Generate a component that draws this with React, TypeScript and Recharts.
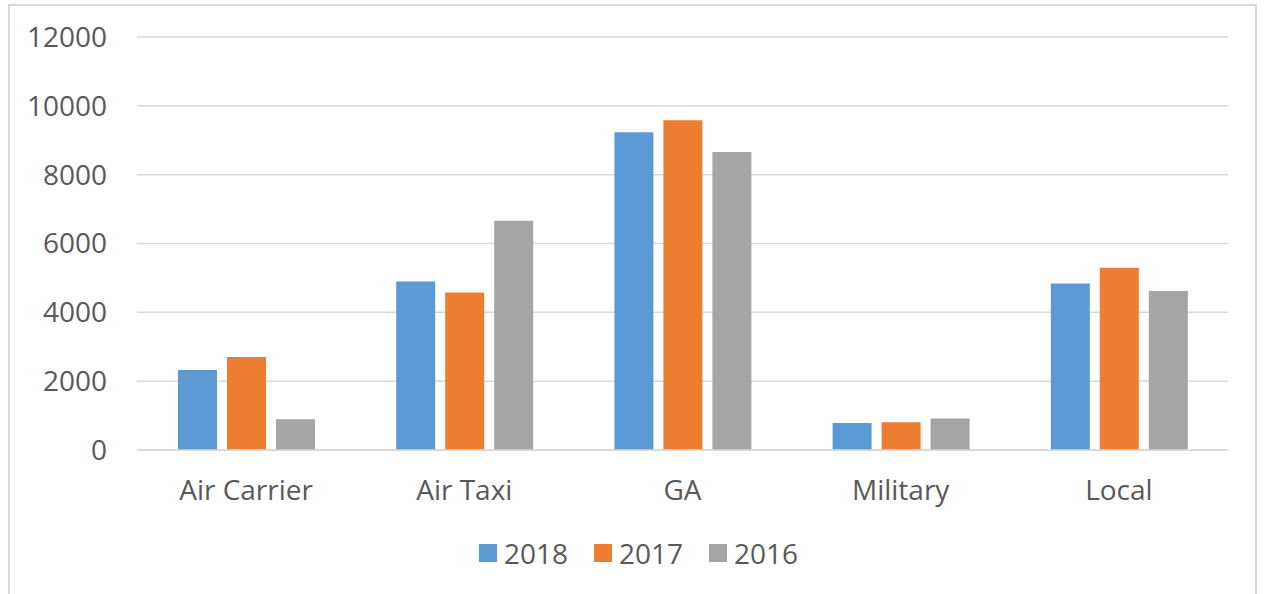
import React from 'react';
import { BarChart, Bar, XAxis, YAxis, CartesianGrid, Legend } from 'recharts';

const categories = ['Air Carrier', 'Air Taxi', 'GA', 'Military', 'Local'];
const values2018 = [2326, 4897, 9229, 785, 4838];
const values2017 = [2704, 4577, 9578, 805, 5292];
const values2016 = [893, 6659, 8656, 913, 4623];
const yTicks = [0, 2000, 4000, 6000, 8000, 10000, 12000];

const seriesInfo = [
  { key: 's2018', name: '2018', color: '#5B9BD5' },
  { key: 's2017', name: '2017', color: '#ED7D31' },
  { key: 's2016', name: '2016', color: '#A5A5A5' },
];

const data = categories.map((c, i) => ({
  name: c,
  s2018: values2018[i],
  s2017: values2017[i],
  s2016: values2016[i],
}));

const FONT = '"Open Sans", sans-serif';
const TEXT = '#595959';

const LegendContent = () => (
  <div
    style={{
      display: 'flex',
      alignItems: 'center',
      height: 40,
      paddingLeft: 479,
      fontFamily: FONT,
      fontSize: 28,
      color: TEXT,
    }}
  >
    {seriesInfo.map((s) => (
      <div key={s.key} style={{ display: 'flex', alignItems: 'center', marginRight: 26 }}>
        <div style={{ width: 18, height: 18, background: s.color, marginRight: 7 }} />
        <span style={{ lineHeight: '40px' }}>{s.name}</span>
      </div>
    ))}
  </div>
);

export default function App() {
  return (
    <div style={{ position: 'absolute', left: 0, top: 0, width: 1264, height: 594, overflow: 'hidden', background: '#fff' }}>
      <div
        style={{
          position: 'absolute',
          left: 8,
          top: 4,
          width: 1245,
          height: 620,
          border: '2px solid #D9D9D9',
        }}
      />
      <div style={{ position: 'absolute', left: 0, top: 0 }}>
        <BarChart
          width={1264}
          height={594}
          data={data}
          margin={{ top: 37, right: 36, bottom: 21, left: 0 }}
          barGap={10}
          barCategoryGap={41}
        >
          <CartesianGrid vertical={false} stroke="#D9D9D9" strokeWidth={1.5} />
          <XAxis
            dataKey="name"
            height={83}
            tickLine={false}
            tickSize={0}
            tickMargin={30}
            axisLine={{ stroke: '#D9D9D9', strokeWidth: 1.5 }}
            tick={{ fill: TEXT, fontSize: 28, fontFamily: FONT }}
          />
          <YAxis
            width={137}
            domain={[0, 12000]}
            ticks={yTicks}
            interval={0}
            tickLine={false}
            axisLine={false}
            tickSize={0}
            tickMargin={30}
            tick={{ fill: TEXT, fontSize: 28, fontFamily: FONT }}
          />
          <Legend
            verticalAlign="bottom"
            content={<LegendContent />}
            wrapperStyle={{ position: 'absolute', top: 533, left: 0, width: 1264, height: 40 }}
          />
          {seriesInfo.map((s) => (
            <Bar key={s.key} dataKey={s.key} name={s.name} fill={s.color} isAnimationActive={false} />
          ))}
        </BarChart>
      </div>
    </div>
  );
}
